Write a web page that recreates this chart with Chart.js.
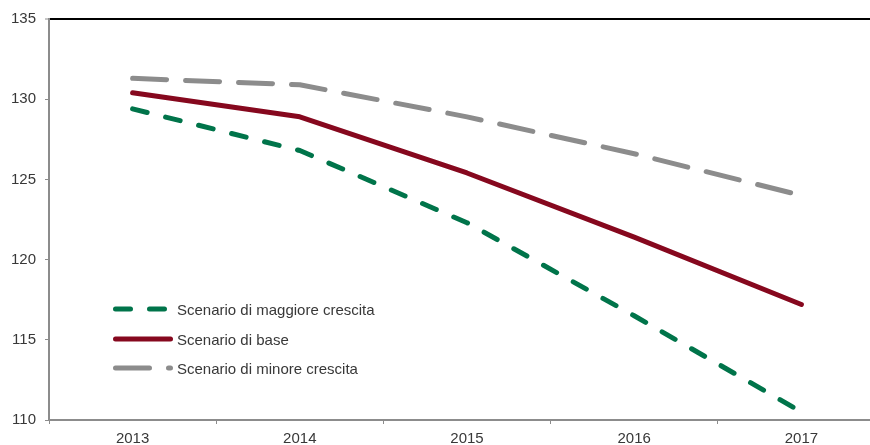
<!DOCTYPE html>
<html>
<head>
<meta charset="utf-8">
<script src="https://cdn.jsdelivr.net/npm/chart.js@4.4.1/dist/chart.umd.min.js"></script>
<style>
  html, body { margin: 0; padding: 0; background: #fff; overflow: hidden; }
  #wrap { width: 870px; height: 445px; overflow: hidden; }
  canvas { display: block; }
</style>
</head>
<body>
<div id="wrap"><canvas id="c" width="885" height="445"></canvas></div>
<script>
const categories = ['2013', '2014', '2015', '2016', '2017'];
const seriesNames = ['Scenario di maggiore crescita', 'Scenario di base', 'Scenario di minore crescita'];
const maggioreCrescita = [129.4, 126.8, 122.3, 116.5, 110.5];
const base = [130.4, 128.9, 125.4, 121.4, 117.2];
const minoreCrescita = [131.3, 130.9, 128.9, 126.6, 124.0];
const yTicks = [110, 115, 120, 125, 130, 135];

const GREEN = 'rgb(0,116,74)';
const RED = 'rgb(134,8,30)';
const GRAY = 'rgb(140,140,140)';
const AXIS = 'rgb(140,140,140)';
const TEXT = '#383838';
const FONT = '"Liberation Sans", Arial, sans-serif';

const legendPlugin = {
  id: 'insideLegend',
  afterDatasetsDraw(chart) {
    const ctx = chart.ctx;
    const rows = [309, 339, 368];
    chart.data.datasets.forEach((ds, i) => {
      const y = rows[i];
      ctx.save();
      ctx.strokeStyle = ds.borderColor;
      ctx.lineWidth = ds.borderWidth;
      ctx.lineCap = 'round';
      ctx.setLineDash(ds.borderDash || []);
      ctx.beginPath();
      ctx.moveTo(115.5, y);
      ctx.lineTo(170.5, y);
      ctx.stroke();
      ctx.restore();
      ctx.save();
      ctx.fillStyle = TEXT;
      ctx.font = '15px ' + FONT;
      ctx.textBaseline = 'alphabetic';
      ctx.fillText(ds.label, 177, y + 5.5);
      ctx.restore();
    });
  }
};

new Chart(document.getElementById('c'), {
  type: 'line',
  data: {
    labels: categories,
    datasets: [
      { label: seriesNames[0], data: maggioreCrescita, borderColor: GREEN, borderWidth: 5, borderDash: [15, 19], borderCapStyle: 'round', borderJoinStyle: 'round', pointRadius: 0, tension: 0, fill: false },
      { label: seriesNames[1], data: base, borderColor: RED, borderWidth: 5, borderDash: [], borderCapStyle: 'round', borderJoinStyle: 'round', pointRadius: 0, tension: 0, fill: false },
      { label: seriesNames[2], data: minoreCrescita, borderColor: GRAY, borderWidth: 5, borderDash: [34, 19], borderCapStyle: 'round', borderJoinStyle: 'round', pointRadius: 0, tension: 0, fill: false }
    ]
  },
  options: {
    responsive: false,
    animation: false,
    devicePixelRatio: 1,
    layout: { padding: { top: 19, right: 0, left: 0, bottom: 0 } },
    plugins: { legend: { display: false }, tooltip: { enabled: false } },
    scales: {
      x: {
        type: 'category',
        offset: true,
        grid: { offset: true, drawOnChartArea: false, tickColor: AXIS, tickLength: 4, tickWidth: 1 },
        border: { color: AXIS, width: 2 },
        ticks: { font: { family: FONT, size: 15 }, color: TEXT, padding: 6, maxRotation: 0 },
        afterFit: s => { s.height = 25; }
      },
      y: {
        min: 110,
        max: 135,
        afterBuildTicks: s => { s.ticks = yTicks.map(v => ({ value: v })); },
        grid: {
          color: c => (c.tick && c.tick.value === 135) ? '#000' : 'rgba(0,0,0,0)',
          lineWidth: c => (c.tick && c.tick.value === 135) ? 2 : 1,
          tickColor: AXIS, tickLength: 4, tickWidth: 1
        },
        border: { color: AXIS, width: 2 },
        ticks: { font: { family: FONT, size: 15 }, color: TEXT, padding: 9 },
        afterFit: s => { s.width = 49; }
      }
    }
  },
  plugins: [legendPlugin]
});
</script>
</body>
</html>
